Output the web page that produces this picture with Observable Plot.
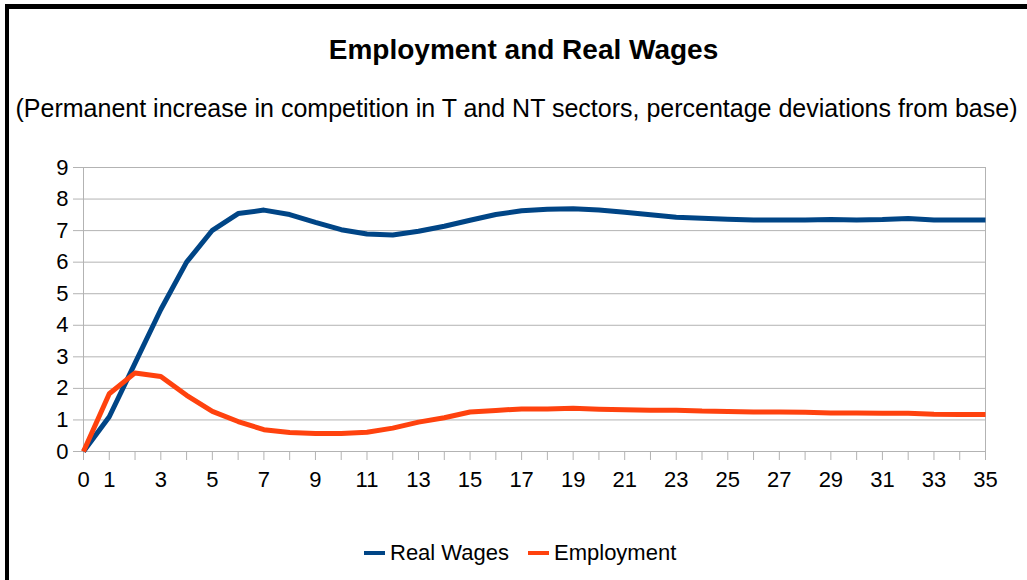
<!DOCTYPE html>
<html>
<head>
<meta charset="utf-8">
<script src="https://cdn.jsdelivr.net/npm/d3@7"></script>
<script src="https://cdn.jsdelivr.net/npm/@observablehq/plot@0.6"></script>
<style>
  html, body { margin: 0; padding: 0; background: #fff; }
  #wrap { position: relative; width: 1027px; height: 580px; overflow: hidden; font-family: "Liberation Sans", Arial, sans-serif; color: #000; }
  .bt { position: absolute; left: 5px; top: 4px; width: 1022px; height: 5px; background: #000; }
  .bl { position: absolute; left: 5px; top: 4px; width: 4px; height: 576px; background: #000; }
  #title { position: absolute; left: 0; width: 1047px; top: 33px; text-align: center; font-size: 28px; font-weight: bold; line-height: 34px; white-space: nowrap; }
  #subtitle { position: absolute; left: 0; width: 1033px; top: 93px; text-align: center; font-size: 25px; line-height: 30px; white-space: nowrap; }
  #chart { position: absolute; left: 0; top: 140px; }
  #legend { position: absolute; left: 364px; top: 539px; font-size: 22px; line-height: 28px; display: flex; align-items: center; white-space: nowrap; }
  .sw { display: inline-block; width: 21px; height: 4px; margin-right: 5px; }
  .item { display: flex; align-items: center; margin-right: 19px; }
</style>
</head>
<body>
<div id="wrap">
  <div class="bt"></div>
  <div class="bl"></div>
  <div id="title">Employment and Real Wages</div>
  <div id="subtitle">(Permanent increase in competition in T and NT sectors, percentage deviations from base)</div>
  <div id="chart"></div>
  <div id="legend"></div>
</div>
<script>
const periods = d3.range(0, 36);
const realWages = [0, 1.1, 2.8, 4.5, 6.0, 7.01, 7.54, 7.65, 7.51, 7.26, 7.03,
  6.89, 6.86, 6.98, 7.14, 7.33, 7.51, 7.63, 7.68, 7.69, 7.65,
  7.58, 7.50, 7.42, 7.39, 7.36, 7.34, 7.34, 7.34, 7.35, 7.34,
  7.35, 7.38, 7.34, 7.34, 7.34];
const employment = [0, 1.83, 2.49, 2.38, 1.78, 1.27, 0.95, 0.69, 0.60, 0.57, 0.57,
  0.61, 0.74, 0.93, 1.07, 1.25, 1.30, 1.35, 1.35, 1.37, 1.34,
  1.32, 1.31, 1.31, 1.28, 1.27, 1.25, 1.25, 1.24, 1.22, 1.22,
  1.21, 1.21, 1.18, 1.17, 1.17];
const seriesNames = ["Real Wages", "Employment"];
const seriesColors = ["#004586", "#ff420e"];
const yTicks = d3.range(0, 10);
const xTickLabels = [0, 1, 3, 5, 7, 9, 11, 13, 15, 17, 19, 21, 23, 25, 27, 29, 31, 33, 35];

const data = [];
periods.forEach((t, i) => {
  data.push({t, v: realWages[i], s: seriesNames[0]});
});
periods.forEach((t, i) => {
  data.push({t, v: employment[i], s: seriesNames[1]});
});

const grid = "#b3b3b3";
const chart = Plot.plot({
  width: 1027,
  height: 370,
  marginLeft: 83,
  marginRight: 42,
  marginTop: 27,
  marginBottom: 59,
  style: {fontFamily: '"Liberation Sans", Arial, sans-serif', fontSize: "22px", color: "#000", background: "transparent"},
  x: {domain: [0, 35]},
  y: {domain: [0, 9]},
  color: {domain: seriesNames, range: seriesColors},
  marks: [
    Plot.ruleY(yTicks, {stroke: grid, strokeWidth: 1}),
    Plot.ruleX([0, 35], {stroke: grid, strokeWidth: 1}),
    Plot.axisY({ticks: yTicks, tickSize: 10, tickPadding: 5, stroke: grid, strokeOpacity: 1, label: null, fill: "#000", fontSize: 22}),
    Plot.axisX({ticks: periods, tickSize: 9, tickPadding: 11, stroke: grid, strokeOpacity: 1, label: null, fill: "#000", fontSize: 22,
      tickFormat: d => xTickLabels.includes(d) ? String(d) : ""}),
    Plot.line(data, {x: "t", y: "v", z: "s", stroke: "s", strokeWidth: 5, strokeLinejoin: "round", strokeLinecap: "butt"})
  ]
});
document.getElementById("chart").appendChild(chart);

const legend = document.getElementById("legend");
seriesNames.forEach((n, i) => {
  const it = document.createElement("div");
  it.className = "item";
  const sw = document.createElement("span");
  sw.className = "sw";
  sw.style.background = seriesColors[i];
  it.appendChild(sw);
  const tx = document.createElement("span");
  tx.textContent = n;
  it.appendChild(tx);
  legend.appendChild(it);
});
</script>
</body>
</html>
